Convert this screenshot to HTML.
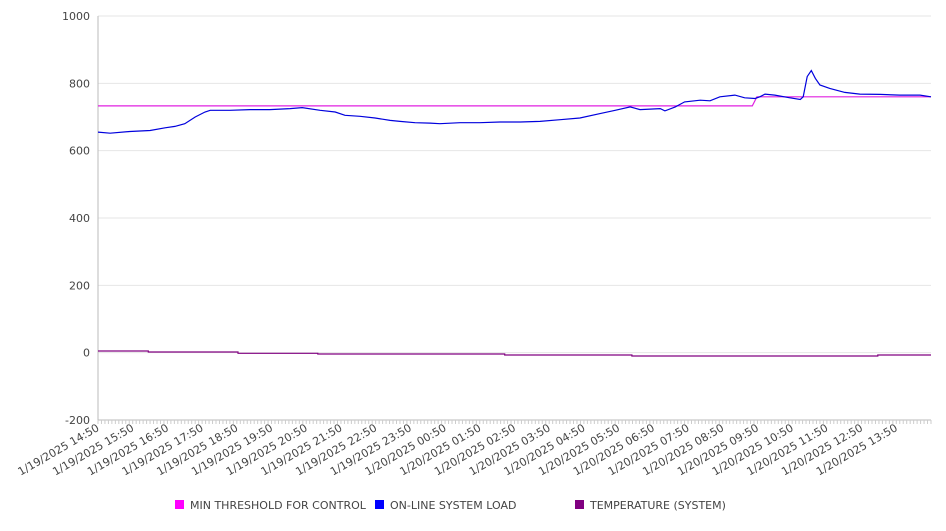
<!DOCTYPE html>
<html><head><meta charset="utf-8"><style>
body{margin:0;background:#fff;font-family:"Liberation Sans","DejaVu Sans",sans-serif}
svg text{font-family:"DejaVu Sans","Liberation Sans",sans-serif;font-size:11px;fill:#444}
</style></head><body>
<svg id="chart" width="946" height="526" xmlns="http://www.w3.org/2000/svg">
<g id="grid"></g>
<g id="axes"></g>
<g id="series"></g>
<g id="legend"></g>
</svg>
<script>
const yTicks=[1000,800,600,400,200,0,-200];
const xLabels=["1/19/2025 14:50","1/19/2025 15:50","1/19/2025 16:50","1/19/2025 17:50","1/19/2025 18:50","1/19/2025 19:50","1/19/2025 20:50","1/19/2025 21:50","1/19/2025 22:50","1/19/2025 23:50","1/20/2025 00:50","1/20/2025 01:50","1/20/2025 02:50","1/20/2025 03:50","1/20/2025 04:50","1/20/2025 05:50","1/20/2025 06:50","1/20/2025 07:50","1/20/2025 08:50","1/20/2025 09:50","1/20/2025 10:50","1/20/2025 11:50","1/20/2025 12:50","1/20/2025 13:50"];
const loadTimes=[0,21,55,90,116,133,150,168,185,194,228,263,297,332,353,384,410,427,453,479,505,522,548,574,591,626,660,695,730,764,799,833,868,894,920,937,972,980,998,1014,1041,1058,1075,1101,1118,1136,1144,1153,1170,1196,1214,1219,1226,1233,1240,1248,1265,1291,1317,1352,1386,1421,1440];
const loadValues=[655,652,657,660,668,672,680,700,715,720,720,722,722,725,728,720,715,705,702,697,690,687,683,682,680,683,683,685,685,687,692,697,710,720,730,722,725,718,730,745,750,748,760,765,757,755,760,768,765,757,752,760,820,838,815,795,785,773,768,767,765,765,760];
const threshTimes=[0,1131,1139,1440];
const threshValues=[733,733,760,760];
const tempTimes=[0,87,87,242,242,380,380,703,703,923,923,1348,1348,1440];
const tempValues=[5,5,2,2,-2,-2,-4,-4,-7,-7,-10,-10,-7,-7];
const X0=98,X1=931,Y0=16,Y1=420,TMAX=1440;
const xs=t=>X0+(X1-X0)*t/TMAX;
const ys=v=>Y1-(v+200)/1200*(Y1-Y0);
const NS="http://www.w3.org/2000/svg";
function mk(tag,attrs,parent){const e=document.createElementNS(NS,tag);for(const k in attrs)e.setAttribute(k,attrs[k]);parent.appendChild(e);return e;}
const grid=document.getElementById('grid'),axes=document.getElementById('axes'),ser=document.getElementById('series'),leg=document.getElementById('legend');
yTicks.forEach(v=>{
 const l=mk('line',{x1:X0,x2:X1,y1:ys(v),y2:ys(v),stroke:'#e6e6e6'},grid);
 
 
 const t=mk('text',{x:90,y:ys(v)+4,'text-anchor':'end'},axes);
 t.textContent=v;
 
 
});
const ax=mk('line',{x1:X0,x2:X0,y1:Y0,y2:Y1,stroke:'#bbb'},axes);


const bx=mk('line',{x1:X0,x2:X1,y1:Y1,y2:Y1,stroke:'#bbb'},axes);


for(let t=0;t<=TMAX;t+=6){const m=mk('line',{x1:xs(t),x2:xs(t),y1:Y1,y2:Y1+4,stroke:'#ccc'},axes);
 
 }
xLabels.forEach((s,i)=>{
 const x=xs(i*60)+2,y=Y1+10;
 const t=mk('text',{x:x,y:y,'text-anchor':'end',transform:`rotate(-30 ${x} ${y})`},axes);
 t.textContent=s;
 
 
});
function line(times,vals,color,name){
 const d=times.map((t,i)=>(i?'L':'M')+xs(t).toFixed(1)+','+ys(vals[i]).toFixed(1)).join('');
 const p=mk('path',{d:d,fill:'none',stroke:color,'stroke-width':1.2},ser);
 
 
}
line(tempTimes,tempValues,'#800080','temperature-line');
line(threshTimes,threshValues,'#e020e0','min-threshold-line');
line(loadTimes,loadValues,'#0000dd','online-system-load-line');
[['MIN THRESHOLD FOR CONTROL','#ff00ff',175],['ON-LINE SYSTEM LOAD','#0000ff',375],['TEMPERATURE (SYSTEM)','#800080',575]].forEach(([n,c,x])=>{
 const g=mk('g',{},leg);
 
 
 mk('rect',{x:x,y:500,width:9,height:9,fill:c},g);
 const t=mk('text',{x:x+15,y:509},g);t.textContent=n;
});
</script>
</body></html>
